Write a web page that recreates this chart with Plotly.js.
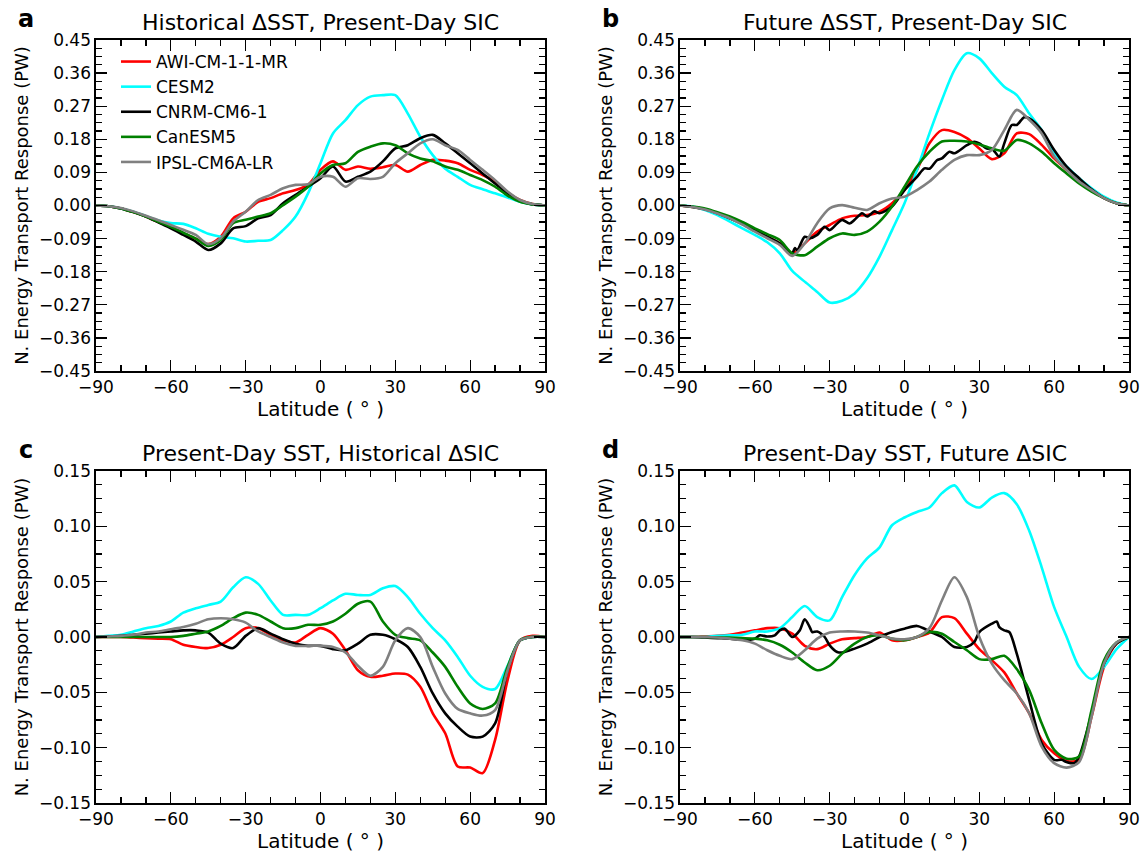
<!DOCTYPE html>
<html>
<head>
<meta charset="utf-8">
<script src="https://cdn.plot.ly/plotly-3.0.1.min.js"></script>
<style>html,body{margin:0;padding:0;background:#fff;}#chart{width:1146px;height:854px;}</style>
</head>
<body>
<div id="chart"></div>
<script>
// ---------------- DATA ----------------
const models = ["AWI-CM-1-1-MR", "CESM2", "CNRM-CM6-1", "CanESM5", "IPSL-CM6A-LR"];
const colors = ["#ff0000", "#00ffff", "#000000", "#008000", "#808080"];

const lat = [-90,-85,-80,-75,-70,-65,-60,-55,-50,-45,-40,-35,-30,-25,-20,-15,-10,-5,0,5,10,15,20,25,30,35,40,45,50,55,60,65,70,75,80,85,90];

// Panel a: Historical dSST, Present-Day SIC
const a_AWI   = [0,-0.002,-0.008,-0.018,-0.03,-0.045,-0.058,-0.075,-0.09,-0.105,-0.085,-0.035,-0.017,0.01,0.02,0.033,0.042,0.056,0.097,0.12,0.097,0.106,0.10,0.104,0.11,0.092,0.11,0.124,0.122,0.115,0.097,0.083,0.065,0.035,0.015,0.004,0];
const a_CESM  = [0,-0.002,-0.008,-0.017,-0.029,-0.041,-0.048,-0.05,-0.062,-0.077,-0.085,-0.089,-0.098,-0.096,-0.094,-0.067,-0.03,0.033,0.115,0.196,0.232,0.273,0.296,0.30,0.30,0.25,0.187,0.137,0.10,0.078,0.056,0.044,0.033,0.022,0.01,0.003,0];
const a_CNRM  = [0,-0.002,-0.008,-0.018,-0.03,-0.046,-0.062,-0.08,-0.098,-0.121,-0.103,-0.062,-0.056,-0.035,-0.026,0.006,0.029,0.051,0.074,0.106,0.065,0.078,0.092,0.12,0.155,0.164,0.183,0.192,0.169,0.142,0.115,0.087,0.06,0.033,0.013,0.003,0];
const a_Can   = [0,-0.002,-0.008,-0.018,-0.03,-0.044,-0.058,-0.074,-0.09,-0.11,-0.094,-0.048,-0.039,-0.03,-0.021,0.001,0.024,0.051,0.087,0.11,0.115,0.146,0.16,0.169,0.164,0.142,0.128,0.12,0.106,0.097,0.083,0.069,0.051,0.027,0.01,0.003,0];
const a_IPSL  = [0,-0.002,-0.007,-0.016,-0.028,-0.04,-0.053,-0.066,-0.08,-0.105,-0.089,-0.044,-0.017,0.015,0.029,0.047,0.056,0.058,0.078,0.078,0.051,0.074,0.072,0.078,0.115,0.142,0.169,0.18,0.164,0.151,0.124,0.097,0.069,0.038,0.015,0.004,0];

// Panel b: Future dSST, Present-Day SIC
const b_AWI   = [0,-0.004,-0.011,-0.022,-0.035,-0.05,-0.067,-0.085,-0.103,-0.13,-0.103,-0.071,-0.053,-0.035,-0.028,-0.026,-0.017,0.006,0.042,0.097,0.169,0.205,0.20,0.183,0.155,0.126,0.142,0.196,0.194,0.165,0.128,0.097,0.069,0.042,0.02,0.006,0];
const b_CESM  = [0,-0.003,-0.012,-0.026,-0.044,-0.062,-0.08,-0.1,-0.13,-0.178,-0.207,-0.235,-0.264,-0.259,-0.239,-0.198,-0.139,-0.067,0.006,0.097,0.196,0.287,0.368,0.414,0.40,0.36,0.323,0.30,0.25,0.205,0.142,0.106,0.074,0.047,0.024,0.008,0];
const latB = [-90,-85,-80,-75,-70,-65,-60,-55,-50,-45,-44,-43,-40,-38,-35,-32,-30,-27,-25,-22,-20,-17,-15,-12,-10,-5,0,5,8,10,13,15,18,20,25,28,30,33,35,38,40,43,45,48,50,55,60,65,70,75,80,85,90];
const b_CNRM  = [0,-0.004,-0.01,-0.021,-0.035,-0.05,-0.067,-0.085,-0.103,-0.13,-0.116,-0.121,-0.085,-0.089,-0.08,-0.058,-0.067,-0.049,-0.039,-0.049,-0.039,-0.021,-0.03,-0.016,-0.021,-0.003,0.042,0.078,0.101,0.1,0.123,0.128,0.146,0.142,0.164,0.173,0.169,0.155,0.155,0.133,0.169,0.219,0.219,0.24,0.237,0.205,0.151,0.106,0.074,0.044,0.02,0.006,0];
const b_Can   = [0,-0.003,-0.008,-0.018,-0.03,-0.045,-0.062,-0.078,-0.094,-0.13,-0.135,-0.112,-0.089,-0.076,-0.08,-0.071,-0.044,-0.003,0.051,0.106,0.146,0.174,0.176,0.174,0.166,0.155,0.149,0.178,0.169,0.146,0.115,0.087,0.06,0.038,0.02,0.006,0];
const b_IPSL  = [0,-0.004,-0.011,-0.022,-0.035,-0.052,-0.071,-0.089,-0.107,-0.137,-0.103,-0.048,-0.008,0.001,-0.006,-0.012,0.006,0.019,0.024,0.042,0.065,0.097,0.124,0.137,0.137,0.151,0.205,0.26,0.233,0.196,0.133,0.097,0.065,0.042,0.02,0.006,0];

// Panel c: Present-Day SST, Historical dSIC
const c_AWI   = [0,0,0,-0.0005,-0.001,-0.0015,-0.002,-0.007,-0.009,-0.01,-0.007,0,0.008,0.008,0.002,-0.003,-0.005,0.002,0.008,0.003,-0.012,-0.03,-0.036,-0.035,-0.033,-0.034,-0.045,-0.069,-0.087,-0.117,-0.118,-0.123,-0.093,-0.039,-0.003,0.001,0];
const c_CESM  = [0,0.001,0.002,0.005,0.008,0.01,0.014,0.022,0.026,0.029,0.032,0.045,0.054,0.048,0.033,0.02,0.02,0.02,0.026,0.033,0.039,0.038,0.038,0.044,0.046,0.036,0.021,0.008,-0.003,-0.018,-0.035,-0.045,-0.047,-0.026,-0.003,0,0];
const c_CNRM  = [0,0.0005,0.001,0.002,0.003,0.004,0.005,0.006,0.006,0.004,-0.006,-0.01,0.001,0.008,0.003,-0.002,-0.006,-0.008,-0.008,-0.011,-0.012,-0.006,0.002,0.002,-0.002,-0.009,-0.027,-0.051,-0.069,-0.081,-0.09,-0.09,-0.078,-0.03,-0.003,0,0];
const c_Can   = [0,0,0,0,0,0,0,0.001,0.003,0.005,0.01,0.017,0.022,0.02,0.014,0.008,0.008,0.011,0.011,0.014,0.021,0.03,0.032,0.014,0.002,-0.001,-0.003,-0.014,-0.027,-0.045,-0.06,-0.065,-0.06,-0.027,-0.003,0,0];
const c_IPSL  = [0,0.0005,0.001,0.002,0.004,0.005,0.007,0.009,0.012,0.016,0.017,0.016,0.013,0.005,0,-0.005,-0.008,-0.008,-0.008,-0.009,-0.014,-0.026,-0.035,-0.027,-0.003,0.008,0,-0.027,-0.051,-0.065,-0.069,-0.071,-0.066,-0.03,-0.003,0,0];

// Panel d: Present-Day SST, Future dSIC
const d_AWI   = [0,0,0.0005,0.001,0.002,0.004,0.006,0.008,0.008,0.003,-0.008,-0.011,-0.006,-0.002,-0.001,0,0.004,-0.003,-0.003,0,0.004,0.018,0.017,0.003,-0.011,-0.021,-0.032,-0.051,-0.069,-0.093,-0.105,-0.112,-0.111,-0.072,-0.027,-0.006,0];
const d_CESM  = [0,0,0,0.001,0.0015,0.002,0.005,0.005,0.008,0.018,0.028,0.018,0.015,0.036,0.056,0.071,0.081,0.101,0.108,0.113,0.117,0.13,0.137,0.122,0.117,0.126,0.13,0.12,0.096,0.063,0.027,0,-0.027,-0.038,-0.027,-0.011,0];
const latD = [-90,-85,-80,-75,-70,-65,-60,-58,-55,-52,-50,-48,-45,-42,-40,-38,-37,-35,-32,-30,-27,-25,-20,-15,-10,-5,0,5,8,10,15,20,25,28,30,35,37,38,40,42,45,50,55,60,63,65,68,70,75,80,85,90];
const d_CNRM  = [0,0,-0.0005,-0.001,-0.0015,-0.0025,-0.0015,0.0015,0.0005,0.0015,0.006,0.0075,0,0.006,0.016,0.009,0.0045,0.005,0,-0.0075,-0.0135,-0.014,-0.0105,-0.006,0,0.0045,0.0075,0.01,0.0075,0.005,0,-0.009,-0.009,-0.0045,0.0045,0.012,0.014,0.009,0.006,0.0045,-0.015,-0.057,-0.096,-0.111,-0.111,-0.113,-0.114,-0.108,-0.069,-0.024,-0.006,0];
const d_Can   = [0,0,0,-0.0003,-0.0006,-0.001,-0.0015,-0.003,-0.007,-0.014,-0.023,-0.03,-0.026,-0.015,-0.006,0,0.0015,-0.0015,-0.003,0,0.0045,0.003,-0.0045,-0.012,-0.02,-0.02,-0.017,-0.029,-0.048,-0.078,-0.102,-0.110,-0.108,-0.066,-0.021,-0.005,0];
const d_IPSL  = [0,0,0,-0.0005,-0.0015,-0.003,-0.006,-0.012,-0.017,-0.02,-0.012,-0.0015,0.004,0.005,0.005,0.004,0.0015,-0.0015,-0.002,0,0.008,0.033,0.054,0.036,0,-0.024,-0.039,-0.051,-0.069,-0.099,-0.114,-0.118,-0.113,-0.072,-0.024,-0.005,0];

// tick values / labels
const xTicks = [-90,-60,-30,0,30,60,90];
const yTicksTop = [-0.45,-0.36,-0.27,-0.18,-0.09,0,0.09,0.18,0.27,0.36,0.45];
const yTicksBot = [-0.15,-0.10,-0.05,0,0.05,0.10,0.15];

const titles = ["Historical ΔSST, Present-Day SIC", "Future ΔSST, Present-Day SIC",
                "Present-Day SST, Historical ΔSIC", "Present-Day SST, Future ΔSIC"];
const letters = ["a","b","c","d"];

// ---------------- BUILD ----------------
const panels = [
  {xs:[lat,lat,lat,lat,lat], ys:[a_AWI,a_CESM,a_CNRM,a_Can,a_IPSL]},
  {xs:[lat,lat,latB,lat,lat], ys:[b_AWI,b_CESM,b_CNRM,b_Can,b_IPSL]},
  {xs:[lat,lat,lat,lat,lat], ys:[c_AWI,c_CESM,c_CNRM,c_Can,c_IPSL]},
  {xs:[lat,lat,latD,lat,lat], ys:[d_AWI,d_CESM,d_CNRM,d_Can,d_IPSL]}
];

const FONT = "DejaVu Sans, Liberation Sans, sans-serif";
const traces = [];
panels.forEach((p, pi) => {
  const ax = pi === 0 ? "" : String(pi + 1);
  for (let m = 0; m < 5; m++) {
    traces.push({
      x: p.xs[m], y: p.ys[m], type: "scatter", mode: "lines",
      name: models[m],
      showlegend: pi === 0,
      line: {color: colors[m], width: 2.6, shape: "spline", smoothing: 0.8},
      xaxis: "x" + ax, yaxis: "y" + ax, hoverinfo: "skip"
    });
  }
});

const W = 1146, H = 854;
const boxes = [
  {l:96, r:545, t:40, b:371},
  {l:680, r:1129, t:40, b:371},
  {l:96, r:545, t:471, b:803},
  {l:680, r:1129, t:471, b:803}
];

function xaxisDef(bx){
  return {
    domain:[bx.l/W, bx.r/W], range:[-90,90], tickvals:xTicks,
    ticks:"inside", ticklen:11, tickwidth:1.3, tickcolor:"#000",
    mirror:"allticks", showline:true, linecolor:"#000", linewidth:1.6,
    showgrid:false, zeroline:false,
    tickfont:{family:FONT, size:17, color:"#000"},
    minor:{dtick:10, tick0:0, ticks:"inside", ticklen:6, tickwidth:1.3, tickcolor:"#000", showgrid:false},
    title:{text:"Latitude ( ° )", font:{family:FONT, size:20, color:"#000"}, standoff:4},
    automargin:false
  };
}
function yaxisDef(bx, top){
  return {
    domain:[1-bx.b/H, 1-bx.t/H],
    range: top ? [-0.45,0.45] : [-0.15,0.15],
    tickvals: top ? yTicksTop : yTicksBot,
    tickformat: ".2f",
    ticks:"inside", ticklen:11, tickwidth:1.3, tickcolor:"#000",
    mirror:"allticks", showline:true, linecolor:"#000", linewidth:1.6,
    showgrid:false, zeroline:false,
    tickfont:{family:FONT, size:17, color:"#000"},
    minor:{dtick: top ? 0.0225 : 0.0125, tick0:0, ticks:"inside", ticklen:6, tickwidth:1.3, tickcolor:"#000", showgrid:false},
    title:{text:"N. Energy Transport Response (PW)", font:{family:FONT, size:18, color:"#000"}, standoff:5},
    automargin:false
  };
}

const layout = {
  width:W, height:H, margin:{l:0,r:0,t:0,b:0},
  paper_bgcolor:"#fff", plot_bgcolor:"#fff",
  font:{family:FONT, color:"#000"},
  showlegend:true,
  legend:{x:116/W, y:1-44/H, xanchor:"left", yanchor:"top", bgcolor:"rgba(0,0,0,0)",
          borderwidth:0, font:{family:FONT, size:17, color:"#000"},
          traceorder:"normal", itemwidth:30},
  annotations:[]
};
boxes.forEach((bx, i) => {
  const ax = i === 0 ? "" : String(i + 1);
  layout["xaxis" + ax] = Object.assign(xaxisDef(bx), {anchor:"y" + ax});
  layout["yaxis" + ax] = Object.assign(yaxisDef(bx, i < 2), {anchor:"x" + ax});
  layout.annotations.push({
    text:titles[i], xref:"paper", yref:"paper",
    x:((bx.l+bx.r)/2)/W, y:1-(bx.t-18)/H, xanchor:"center", yanchor:"middle",
    showarrow:false, font:{family:FONT, size:22, color:"#000"}
  });
  layout.annotations.push({
    text:"<b>"+letters[i]+"</b>", xref:"paper", yref:"paper",
    x:(bx.l-70)/W, y:1-(bx.t-21)/H, xanchor:"center", yanchor:"middle",
    showarrow:false, font:{family:FONT, size:24, color:"#000"}
  });
});

Plotly.newPlot("chart", traces, layout, {displayModeBar:false, staticPlot:true});
</script>
</body>
</html>
